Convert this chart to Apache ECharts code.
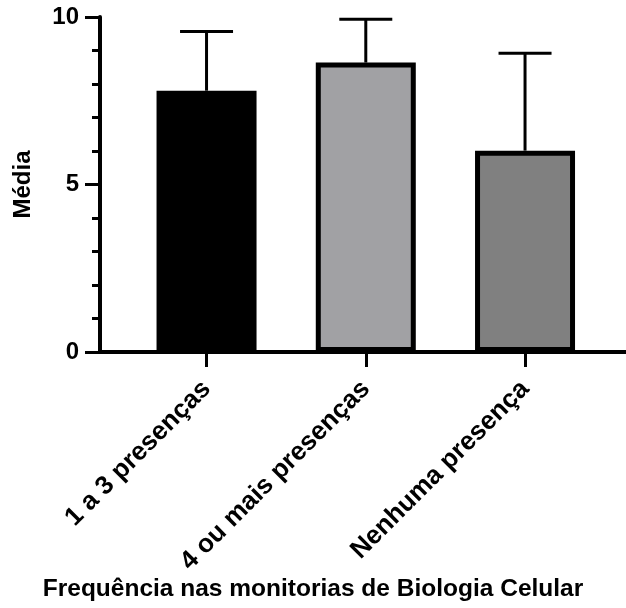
<!DOCTYPE html>
<html lang="pt">
<head>
    <meta charset="UTF-8">
    <title>Média por frequência</title>
    <script src="https://cdn.jsdelivr.net/npm/echarts@6/dist/echarts.min.js"></script>
    <style>
        html, body { margin: 0; padding: 0; background: #fff; }
    </style>
</head>
<body>
<div id="grafico" style="width:626px;height:608px;"></div>
<script>
    // dados
    var categorias = ['1 a 3 presenças', '4 ou mais presenças', 'Nenhuma presença'];
    var medias = [7.8, 8.64, 6.01];
    var desvios = [1.77, 1.29, 2.91];
    var cores = ['#000000', '#a1a1a4', '#808080'];
    var ticksY = [0, 5, 10];

    var fonte = 'Liberation Sans, Arial, sans-serif';

    var barras = [];
    var erros = [];
    for (var i = 0; i < categorias.length; i++) {
        barras.push({value: [i, medias[i]], itemStyle: {color: cores[i]}});
        erros.push([i, medias[i], medias[i] + desvios[i]]);
    }

    var myChart = echarts.init(document.getElementById('grafico'));
    var option = {
        animation: false,
        title: {
            text: 'Frequência nas monitorias de Biologia Celular',
            left: 'center',
            top: 577,
            padding: 0,
            textStyle: {fontFamily: fonte, fontSize: 24.5, fontWeight: 'bold', color: '#000'}
        },
        grid: {left: 100, right: 0, top: 17, bottom: 256},
        xAxis: {
            type: 'value',
            min: -0.669,
            max: 2.634,
            splitLine: {show: false},
            axisLine: {onZero: false, lineStyle: {color: '#000', width: 4}},
            axisTick: {
                customValues: [0, 1, 2],
                length: 15,
                lineStyle: {color: '#000', width: 3}
            },
            axisLabel: {
                customValues: [0, 1, 2],
                formatter: function (v) { return categorias[Math.round(v)]; },
                rotate: 45,
                margin: 33,
                color: '#000',
                fontFamily: fonte,
                fontSize: 26,
                fontWeight: 'bold'
            }
        },
        yAxis: {
            type: 'value',
            min: ticksY[0],
            max: ticksY[ticksY.length - 1],
            interval: 5,
            name: 'Média',
            nameLocation: 'middle',
            nameGap: 65,
            nameTextStyle: {fontFamily: fonte, fontSize: 24, fontWeight: 'bold', color: '#000'},
            splitLine: {show: false},
            axisLine: {show: true, onZero: false, lineStyle: {color: '#000', width: 4}},
            axisTick: {show: true, length: 15, lineStyle: {color: '#000', width: 3}},
            minorTick: {show: true, splitNumber: 5, length: 8, lineStyle: {color: '#000', width: 3}},
            axisLabel: {margin: 21, color: '#000', fontFamily: fonte, fontSize: 24, fontWeight: 'bold'}
        },
        series: [
            {
                type: 'bar',
                barWidth: 100,
                data: barras,
                itemStyle: {borderColor: '#000', borderWidth: 5}
            },
            {
                type: 'custom',
                data: erros,
                encode: {x: 0, y: [1, 2]},
                z: 3,
                renderItem: function (params, api) {
                    var base = api.coord([api.value(0), api.value(1)]);
                    var topo = api.coord([api.value(0), api.value(2)]);
                    var meio = 26.5;
                    var estilo = {stroke: '#000', lineWidth: 3};
                    return {
                        type: 'group',
                        children: [
                            {type: 'line', shape: {x1: topo[0], y1: base[1], x2: topo[0], y2: topo[1]}, style: estilo},
                            {type: 'line', shape: {x1: topo[0] - meio, y1: topo[1], x2: topo[0] + meio, y2: topo[1]}, style: estilo}
                        ]
                    };
                }
            }
        ]
    };
    myChart.setOption(option);
</script>
</body>
</html>
